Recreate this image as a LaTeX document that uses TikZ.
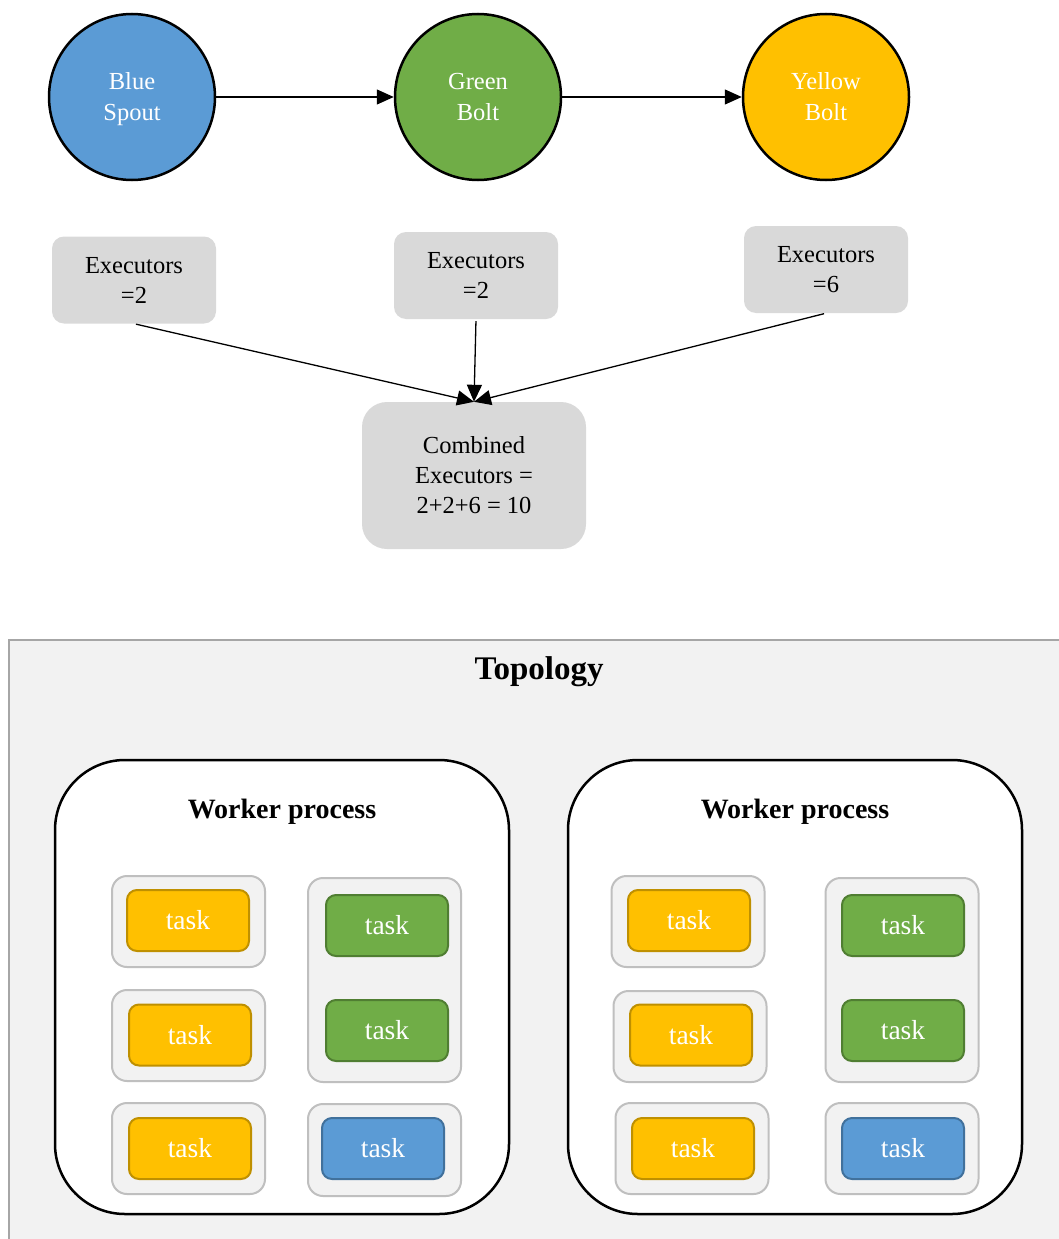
\documentclass[tikz,border=0pt]{standalone}
\usepackage{fontspec}
\setmainfont{Liberation Serif}
\usetikzlibrary{arrows.meta}

\definecolor{spoutblue}{HTML}{5B9BD5}
\definecolor{boltgreen}{HTML}{70AD47}
\definecolor{boltyellow}{HTML}{FFC000}
\definecolor{blueedge}{HTML}{41719C}
\definecolor{greenedge}{HTML}{507E32}
\definecolor{yellowedge}{HTML}{BF9000}
\definecolor{execgray}{HTML}{D9D9D9}
\definecolor{topofill}{HTML}{F2F2F2}
\definecolor{topoedge}{HTML}{A6A6A6}
\definecolor{slotedge}{HTML}{BFBFBF}

\begin{document}
\begin{tikzpicture}[x=1pt,y=-1pt,
  component/.style={circle, draw=black, line width=2.5pt, minimum size=166pt,
    inner sep=0pt, text=white, align=center, font=\fontsize{24.5}{31}\selectfont},
  execbox/.style={rectangle, rounded corners=12pt, fill=execgray,
    minimum width=164pt, minimum height=87pt, align=center,
    font=\fontsize{24.5}{30}\selectfont},
  link/.style={-{Triangle[length=17pt,width=15pt]}, line width=1.3pt},
  worker/.style={rectangle, rounded corners=70pt, draw=black, fill=white,
    line width=2.5pt, minimum width=454pt, minimum height=454pt},
  slot/.style={rectangle, rounded corners=15pt, draw=slotedge, fill=topofill,
    line width=2pt, minimum width=153pt},
  task/.style={rectangle, rounded corners=10pt, line width=2pt,
    minimum width=122pt, minimum height=61pt, text=white,
    font=\fontsize{27.5}{30}\selectfont},
  ytask/.style={task, fill=boltyellow, draw=yellowedge},
  gtask/.style={task, fill=boltgreen, draw=greenedge},
  btask/.style={task, fill=spoutblue, draw=blueedge},
  heading/.style={font=\bfseries\fontsize{28}{32}\selectfont}
]
\useasboundingbox (0,0) rectangle (1059,1239);
\clip (0,0) rectangle (1059,1239);

% stream components
\node[component, fill=spoutblue] (blue) at (132,97) {};
\node[text=white, align=center, font=\fontsize{24.5}{31}\selectfont]
  (bluetxt) at (132,99) {Blue\\Spout};
\node[component, fill=boltgreen] (green) at (478,97) {Green\\Bolt};
\node[component, fill=boltyellow] (yellow) at (826,97) {Yellow\\Bolt};
\draw[link] (blue.east) -- (green.west);
\draw[link] (green.east) -- (yellow.west);

% executor counts
\node[execbox] (ex1) at (134,280) {Executors\\=2};
\node[execbox] (ex2) at (476,275.5) {Executors\\=2};
\node[execbox] (ex3) at (826,269.5) {Executors\\=6};
\node[rectangle, rounded corners=25pt, fill=execgray, minimum width=224pt,
  minimum height=147pt, align=center, font=\fontsize{24.5}{30}\selectfont]
  (total) at (474,475.5) {Combined\\Executors =\\2+2+6 = 10};
\draw[link, shorten <=2pt] (ex1.south) -- (total.north);
\draw[link, shorten <=2pt] (ex2.south) -- (total.north);
\draw[link, shorten <=2pt] (ex3.south) -- (total.north);

% topology frame
\draw[fill=topofill, draw=topoedge, line width=2pt] (9,640) rectangle (1075,1255);
\node[heading, font=\bfseries\fontsize{33}{36}\selectfont] (topo) at (539,672) {Topology};

% left worker process
\node[worker] (w1) at (282,987) {};
\node[heading] (w1t) at (282,812) {Worker process};
\node[slot, minimum height=91pt] (a1) at (188.5,921.5) {};
\node[slot, minimum height=91pt] (a2) at (188.5,1035.5) {};
\node[slot, minimum height=91pt] (a3) at (188.5,1148.5) {};
\node[slot, minimum height=204pt] (a4) at (384.5,980) {};
\node[slot, minimum height=92pt] (a5) at (384.5,1150) {};
\node[ytask] (at1) at (188,920.5) {task};
\node[ytask] (at2) at (190,1035) {task};
\node[ytask] (at3) at (190,1148.5) {task};
\node[gtask] (at4) at (387,925.5) {task};
\node[gtask] (at5) at (387,1030.5) {task};
\node[btask] (at6) at (383,1148.5) {task};

% right worker process
\node[worker] (w2) at (795,987) {};
\node[heading] (w2t) at (795,812) {Worker process};
\node[slot, minimum height=91pt] (b1) at (688,921.5) {};
\node[slot, minimum height=91pt] (b2) at (690,1036.5) {};
\node[slot, minimum height=91pt] (b3) at (692,1148.5) {};
\node[slot, minimum height=204pt] (b4) at (902,980) {};
\node[slot, minimum height=91pt] (b5) at (902,1148.5) {};
\node[ytask] (bt1) at (689,920.5) {task};
\node[ytask] (bt2) at (691,1035) {task};
\node[ytask] (bt3) at (693,1148.5) {task};
\node[gtask] (bt4) at (903,925.5) {task};
\node[gtask] (bt5) at (903,1030.5) {task};
\node[btask] (bt6) at (903,1148.5) {task};
\end{tikzpicture}
\end{document}
